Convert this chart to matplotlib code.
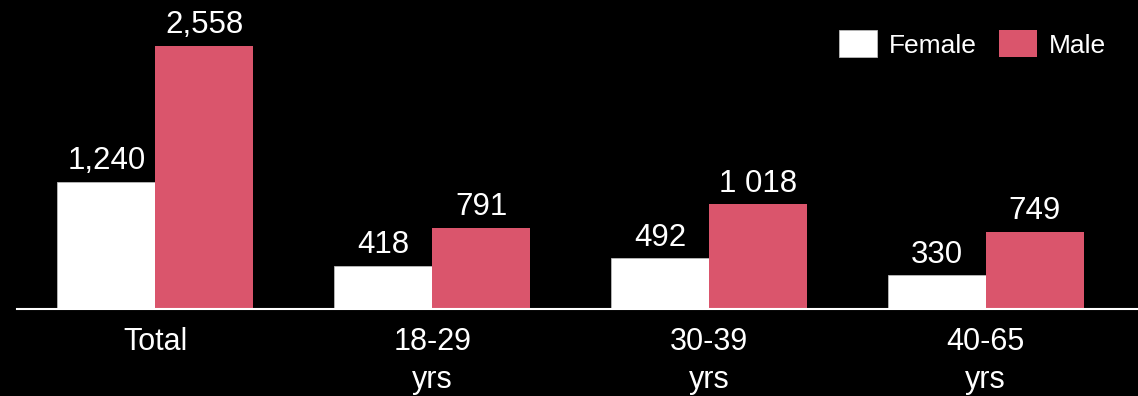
import numpy as np
import matplotlib.pyplot as plt

plt.rcParams['font.family'] = ['Liberation Sans', 'DejaVu Sans']

# age groups and counts per gender
categories = ["Total", "18-29\nyrs", "30-39\nyrs", "40-65\nyrs"]
female = [1240, 418, 492, 330]
male = [2558, 791, 1018, 749]
female_labels = ["1,240", "418", "492", "330"]
male_labels = ["2,558", "791", "1 018", "749"]

FEMALE_COLOR = "#ffffff"
MALE_COLOR = "#da556c"

fig = plt.figure(figsize=(11.38, 3.96), dpi=100, facecolor="black")
ax = fig.add_axes([17 / 1138, 87 / 396, 1121 / 1138, 309 / 396])
ax.set_facecolor("black")

x = np.arange(len(categories))
w = 0.354
b1 = ax.bar(x - w / 2, female, w, color=FEMALE_COLOR, edgecolor="#bbbbbb",
            linewidth=0.6, label="Female")
b2 = ax.bar(x + w / 2, male, w, color=MALE_COLOR, label="Male")

# value labels above each bar
for bars, labels in ((b1, female_labels), (b2, male_labels)):
    for rect, txt in zip(bars, labels):
        ax.annotate(txt, (rect.get_x() + rect.get_width() / 2, rect.get_height()),
                    xytext=(0, 4), textcoords="offset points",
                    ha="center", va="bottom", color="white", fontsize=22.5)

ax.set_xlim(-0.5, 3.55)
ax.set_ylim(0, 3006)
ax.set_xticks(x)
ax.set_xticklabels(categories, color="white", fontsize=22, linespacing=1.35)
ax.tick_params(axis="x", length=0, pad=13)
ax.set_yticks([])
for s in ["top", "right", "left"]:
    ax.spines[s].set_visible(False)
ax.spines["bottom"].set_color("white")
ax.spines["bottom"].set_linewidth(1.5)

leg = fig.legend(handles=[b1, b2], labels=["Female", "Male"], ncol=2,
                 loc="center right", bbox_to_anchor=(1106 / 1138, 1 - 44 / 396),
                 frameon=False, fontsize=19, handlelength=1.45, handleheight=1.2,
                 handletextpad=0.45, columnspacing=0.83, borderpad=0,
                 borderaxespad=0)
for t in leg.get_texts():
    t.set_color("white")

fig.savefig("out.png", facecolor="black")
